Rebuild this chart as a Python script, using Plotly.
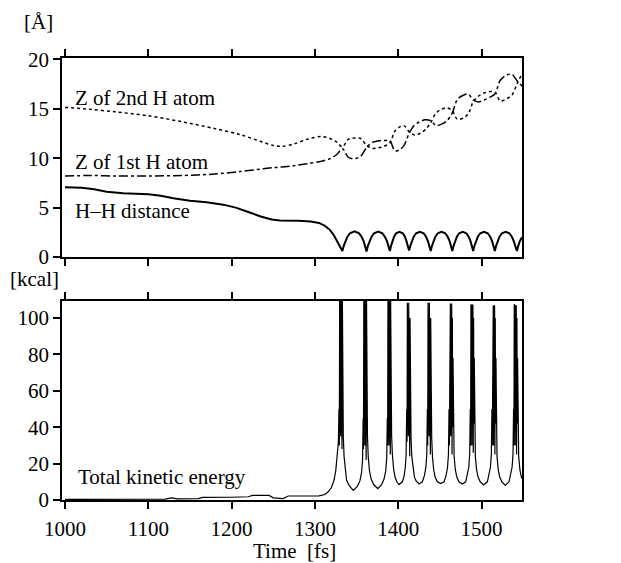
import plotly.graph_objects as go

# ---------------- data ----------------
x_ticks = [1000, 1100, 1200, 1300, 1400, 1500]
y_ticks_top = [0, 5, 10, 15, 20]
y_ticks_bottom = [0, 20, 40, 60, 80, 100]

# H-H distance [Å]
t_hh = [1000, 1020, 1035, 1050, 1070, 1100, 1115, 1130, 1150, 1170, 1190, 1205, 1220, 1235, 1248,
        1258, 1280, 1295, 1305, 1312, 1318, 1322, 1326, 1329, 1331, 1333,
        1334.5, 1336.5, 1339, 1342, 1347.5, 1353, 1356, 1358.5, 1360.5, 1362,
        1363.5, 1365.5, 1368, 1371, 1376, 1381, 1384, 1386.5, 1388.5, 1390,
        1391.3, 1393, 1395, 1397.5, 1401.5, 1405.5, 1408, 1410, 1411.7, 1413,
        1414.4, 1416.3, 1418.6, 1421.5, 1426, 1430.5, 1433.4, 1435.7, 1437.6, 1439,
        1440.4, 1442.3, 1444.6, 1447.5, 1452, 1456.5, 1459.4, 1461.7, 1463.6, 1465,
        1466.4, 1468.2, 1470.4, 1473.2, 1477.5, 1481.8, 1484.6, 1486.8, 1488.6, 1490,
        1491.4, 1493.3, 1495.6, 1498.5, 1503, 1507.5, 1510.4, 1512.7, 1514.6, 1516,
        1517.4, 1519.3, 1521.6, 1524.5, 1529, 1533.5, 1536.4, 1538.7, 1540.6, 1542.5,
        1544, 1546, 1548.6]
hh = [7.05, 7.0, 6.85, 6.6, 6.45, 6.35, 6.2, 5.95, 5.7, 5.55, 5.3, 5.0, 4.55, 4.1, 3.8,
      3.7, 3.68, 3.6, 3.45, 3.15, 2.75, 2.3, 1.7, 1.2, 0.85, 0.6,
      1.1, 1.6, 2.05, 2.4, 2.6, 2.4, 2.05, 1.6, 1.1, 0.55,
      1.1, 1.6, 2.05, 2.4, 2.58, 2.4, 2.05, 1.6, 1.1, 0.6,
      1.1, 1.6, 2.05, 2.4, 2.55, 2.4, 2.05, 1.6, 1.1, 0.65,
      1.1, 1.6, 2.05, 2.4, 2.55, 2.4, 2.05, 1.6, 1.1, 0.6,
      1.1, 1.6, 2.05, 2.4, 2.55, 2.4, 2.05, 1.6, 1.1, 0.6,
      1.1, 1.6, 2.05, 2.4, 2.55, 2.4, 2.05, 1.6, 1.1, 0.6,
      1.1, 1.6, 2.05, 2.4, 2.55, 2.4, 2.05, 1.6, 1.1, 0.6,
      1.1, 1.6, 2.05, 2.4, 2.55, 2.4, 2.05, 1.6, 1.1, 0.6,
      1.1, 1.6, 2.0]

# Z of the H atoms [Å]
t_z = [1000, 1030, 1060, 1100, 1140, 1180, 1210, 1235, 1250, 1260, 1275, 1292, 1308, 1318, 1326, 1333,
       1340, 1347.5, 1355, 1362,
       1369, 1376, 1383, 1390,
       1396, 1401.5, 1407, 1413,
       1419.5, 1426, 1432.5, 1439,
       1445.5, 1452, 1458.5, 1465,
       1471, 1477.5, 1484, 1490,
       1496.5, 1503, 1509.5, 1516,
       1522.5, 1529.5, 1536.5, 1543,
       1549]
z1 = [8.2, 8.25, 8.2, 8.2, 8.25, 8.4, 8.65, 8.9, 9.05, 9.1, 9.25, 9.45, 9.7, 9.95, 10.35, 10.95,
      10.1, 9.95, 10.2, 11.1,
      11.6, 11.75, 11.8, 11.75,
      10.75, 10.85, 11.3, 12.5,
      13.35, 13.7, 13.9, 13.8,
      13.3, 13.45, 13.8, 14.6,
      15.95, 16.35, 16.5, 15.9,
      15.7, 15.9, 16.15, 16.5,
      17.9, 18.4, 18.5, 17.8,
      17.3]
z2 = [15.15, 14.95, 14.7, 14.3, 13.7, 13.0, 12.4, 11.7, 11.3, 11.2, 11.45, 11.95, 12.2, 12.0, 11.65, 11.15,
      11.9, 12.05, 12.0, 11.3,
      11.0, 11.05, 11.2, 11.55,
      12.75, 13.15, 13.3, 12.7,
      12.35, 12.5, 12.9, 13.6,
      14.6, 14.95, 15.1, 14.8,
      13.95, 14.05, 14.5, 15.7,
      16.3, 16.6, 16.75, 16.7,
      15.8, 16.0, 16.4, 17.6,
      18.6]

# Total kinetic energy [kcal]
t_ke = [1000, 1050, 1100, 1120, 1128, 1135, 1160, 1165, 1200, 1220, 1225, 1245, 1250, 1262, 1268, 1295,
        1305, 1312, 1316, 1320, 1323, 1325, 1327, 1328.2,
        1328.9, 1329.3, 1329.7, 1330.1, 1330.5, 1330.9, 1331.3, 1331.7, 1332.1, 1332.5, 1332.9, 1333.3, 1333.7, 1334.1,
        1335, 1336.3, 1338, 1341, 1346,
        1351, 1354, 1356, 1357.2,
        1357.9, 1358.3, 1358.7, 1359.1, 1359.5, 1359.9, 1360.3, 1360.7, 1361.1, 1361.5, 1361.9, 1362.3, 1362.7, 1363.1,
        1364, 1365.5, 1367.5, 1370.5, 1375.5,
        1380, 1383, 1385, 1386.2,
        1386.9, 1387.3, 1387.7, 1388.1, 1388.5, 1388.9, 1389.3, 1389.7, 1390.1, 1390.5, 1390.9, 1391.3, 1391.7, 1392.1,
        1393, 1394.5, 1396.3, 1398.3, 1401,
        1405, 1407, 1408.5, 1409.5,
        1410.2, 1410.6, 1411.0, 1411.4, 1411.8, 1412.2, 1412.6, 1413.0, 1413.4, 1413.8, 1414.2, 1414.6, 1415.0, 1415.4,
        1416.3, 1417.8, 1419.5, 1421.5, 1425,
        1429, 1431.5, 1433.2, 1434.3,
        1435.0, 1435.4, 1435.8, 1436.2, 1436.6, 1437.0, 1437.4, 1437.8, 1438.2, 1438.6, 1439.0, 1439.4, 1439.8, 1440.2,
        1441.1, 1442.6, 1444.4, 1447, 1451,
        1455, 1457.5, 1459.2, 1460.3,
        1461.0, 1461.4, 1461.8, 1462.2, 1462.6, 1463.0, 1463.4, 1463.8, 1464.2, 1464.6, 1465.0, 1465.4, 1465.8, 1466.2,
        1467.1, 1468.6, 1470.4, 1473, 1477,
        1481, 1483, 1484.7, 1485.8,
        1486.5, 1486.9, 1487.3, 1487.7, 1488.1, 1488.5, 1488.9, 1489.3, 1489.7, 1490.1, 1490.5, 1490.9, 1491.3, 1491.7,
        1492.6, 1494.1, 1495.9, 1498.5, 1502.5,
        1507, 1509, 1510.7, 1511.8,
        1512.5, 1512.9, 1513.3, 1513.7, 1514.1, 1514.5, 1514.9, 1515.3, 1515.7, 1516.1, 1516.5, 1516.9, 1517.3, 1517.7,
        1518.6, 1520.1, 1521.9, 1524.5, 1528.5,
        1533, 1535, 1536.7, 1537.8,
        1538.5, 1538.9, 1539.3, 1539.7, 1540.1, 1540.5, 1540.9, 1541.3, 1541.7, 1542.1, 1542.5, 1542.9, 1543.3, 1543.7,
        1544.6, 1546.1, 1547.9, 1550]
ke = [0.3, 0.3, 0.4, 0.5, 1.2, 0.6, 0.8, 1.4, 1.5, 1.8, 2.5, 2.5, 1.2, 0.8, 2.2, 2.3,
      2.3, 3.0, 4.5, 7.0, 11, 16, 24, 32,
      50, 30, 115, 45, 115, 35, 115, 60, 115, 28, 115, 40, 85, 35,
      24, 16, 11, 8, 5.3,
      7.5, 10.5, 15, 22,
      45, 28, 110, 40, 115, 30, 115, 55, 115, 22, 115, 38, 80, 35,
      24, 16, 11.5, 8.5, 6.3,
      8.5, 11.5, 16, 23,
      45, 30, 115, 50, 115, 30, 115, 60, 112, 25, 110, 45, 85, 35,
      25, 17, 12.5, 10, 8.5,
      10, 13, 18, 25,
      50, 32, 108.5, 55, 108, 35, 108.5, 62, 108, 24, 100, 40, 75, 34,
      24, 16.5, 12.5, 10.5, 8.8,
      10, 13.5, 18, 25,
      50, 30, 108.5, 55, 108, 35, 108.5, 60, 108, 25, 100, 40, 78, 34,
      24, 16.5, 12.5, 10, 9,
      10, 13.5, 18, 25,
      50, 30, 108, 55, 108, 35, 107.5, 60, 108, 25, 100, 40, 78, 34,
      24, 16.5, 12.5, 10, 8.8,
      10, 13.5, 18, 25,
      50, 30, 107.5, 55, 107, 30, 107.5, 60, 107, 26, 100, 42, 78, 34,
      24, 16.5, 12.5, 10, 8.3,
      10, 13.5, 18, 25,
      50, 30, 107, 55, 107, 30, 107, 60, 106.5, 25, 100, 42, 78, 34,
      24, 16.5, 12.5, 10, 8.0,
      10, 13.5, 18, 25,
      50, 30, 107.5, 55, 107, 30, 107, 60, 106.5, 25, 100, 42, 78, 34,
      24, 16.5, 12.5, 11]

# ---------------- figure ----------------
FONT = "Liberation Serif"
fig = go.Figure()

fig.add_trace(go.Scatter(x=t_hh, y=hh, xaxis="x2", yaxis="y2", mode="lines",
                         line=dict(color="black", width=2), showlegend=False))
fig.add_trace(go.Scatter(x=t_z, y=z1, xaxis="x2", yaxis="y2", mode="lines",
                         line=dict(color="black", width=1.5, dash="dashdot", shape="spline", smoothing=0.9),
                         showlegend=False))
fig.add_trace(go.Scatter(x=t_z, y=z2, xaxis="x2", yaxis="y2", mode="lines",
                         line=dict(color="black", width=1.5, dash="dot", shape="spline", smoothing=0.9),
                         showlegend=False))
fig.add_trace(go.Scatter(x=t_ke, y=ke, xaxis="x", yaxis="y", mode="lines",
                         line=dict(color="black", width=1.2), showlegend=False))

xr = [996.4, 1548.6]
axis_common = dict(showline=True, linecolor="black", linewidth=1.5, ticks="outside",
                   ticklen=7, tickwidth=1.5, tickcolor="black", showgrid=False, zeroline=False,
                   tickfont=dict(family=FONT, size=21, color="black"))

fig.update_layout(
    width=621, height=563,
    margin=dict(l=62, r=99, t=58, b=63),
    paper_bgcolor="white", plot_bgcolor="white",
    font=dict(family=FONT, size=21, color="black"),
    xaxis=dict(domain=[0, 1], range=xr, anchor="y", tickvals=x_ticks, mirror="ticks",
               ticklabelstandoff=2, **axis_common),
    yaxis=dict(domain=[0, 0.451], range=[0, 109.6], anchor="x", tickvals=y_ticks_bottom,
               mirror=True, **axis_common),
    xaxis2=dict(domain=[0, 1], range=xr, anchor="y2", tickvals=x_ticks, showticklabels=False,
                mirror="ticks", **axis_common),
    yaxis2=dict(domain=[0.5498, 1], range=[0, 20.15], anchor="x2", tickvals=y_ticks_top,
                mirror=True, **axis_common),
)

ann_font = dict(family=FONT, size=21, color="black")
fig.add_annotation(x=1009, y=16.1, xref="x2", yref="y2", text="Z of 2nd H atom",
                   showarrow=False, xanchor="left", yanchor="middle", font=ann_font)
fig.add_annotation(x=1010, y=9.65, xref="x2", yref="y2", text="Z of 1st H atom",
                   showarrow=False, xanchor="left", yanchor="middle", font=ann_font)
fig.add_annotation(x=1009, y=4.7, xref="x2", yref="y2", text="H–H distance",
                   showarrow=False, xanchor="left", yanchor="middle", font=ann_font)
fig.add_annotation(x=1013, y=12.7, xref="x", yref="y", text="Total kinetic energy",
                   showarrow=False, xanchor="left", yanchor="middle", font=ann_font)

fig.add_annotation(x=-0.052, y=1.0814, xref="paper", yref="paper", text="[Å]",
                   showarrow=False, xanchor="center", yanchor="middle", font=ann_font)
fig.add_annotation(x=-0.060, y=0.5, xref="paper", yref="paper", text="[kcal]",
                   showarrow=False, xanchor="center", yanchor="middle", font=ann_font)
fig.add_annotation(x=0.506, y=-0.1145, xref="paper", yref="paper", text="Time  [fs]",
                   showarrow=False, xanchor="center", yanchor="middle", font=ann_font)

fig.write_html("out.html", config={"displayModeBar": False},
               post_script="document.body.style.margin='0';")
